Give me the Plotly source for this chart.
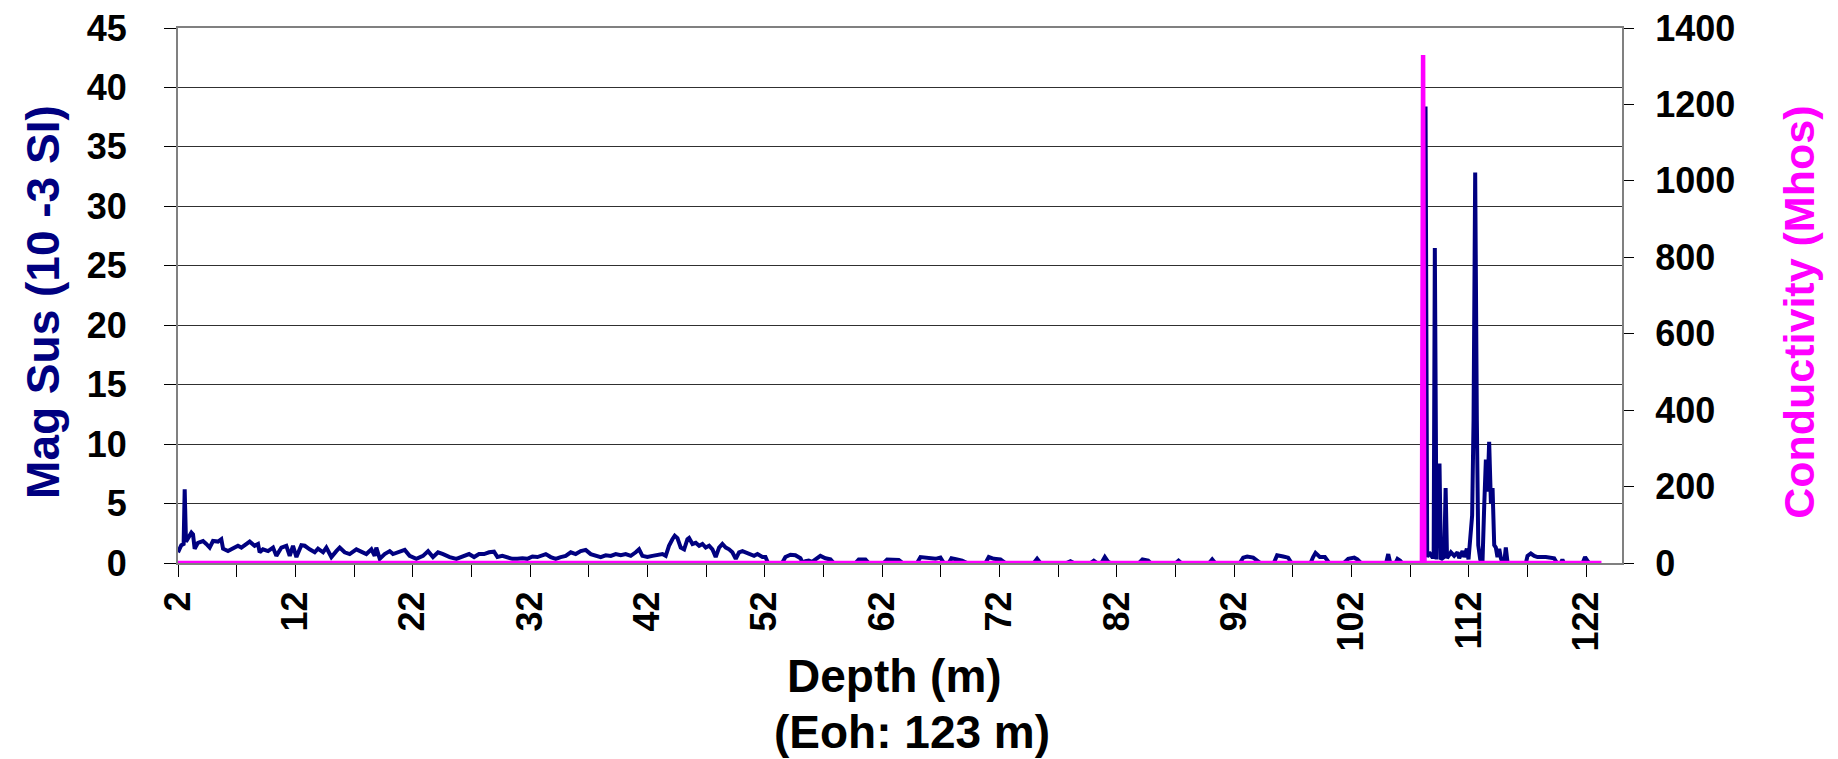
import plotly.graph_objects as go

# ---- Data ----
mag_depth = [
    2.00, 2.28, 2.48, 2.57, 2.68, 2.85, 3.14, 3.28, 3.42, 3.70, 4.13, 4.41, 4.70, 4.98, 5.41, 5.69, 5.84,
    6.26, 6.69, 7.11, 7.40, 7.82, 8.11, 8.53, 8.82, 8.96, 9.24, 9.67, 10.10, 10.38, 10.81, 11.23, 11.52,
    11.80, 12.09, 12.51, 12.80, 13.22, 13.65, 13.93, 14.36, 14.64, 15.07, 15.49, 15.78, 16.20, 16.63,
    17.20, 17.63, 18.05, 18.48, 18.76, 18.90, 19.19, 19.61, 20.04, 20.32, 20.89, 21.32, 21.74, 22.31,
    22.88, 23.31, 23.73, 24.16, 24.59, 25.15, 25.72, 26.15, 26.57,
    26.80, 27.23, 27.65, 28.08, 28.51, 28.93, 29.22, 29.64, 30.07, 30.49, 30.92, 31.35, 31.77, 32.20,
    32.63, 33.05, 33.34, 33.76, 34.19, 34.61, 35.04, 35.47, 35.89, 36.32, 36.74, 37.17, 37.60, 38.02,
    38.45, 38.88, 39.30, 39.73, 40.15, 40.58, 41.01, 41.29, 41.57, 42.00, 42.43, 42.85, 43.28, 43.56,
    43.84, 44.13, 44.33, 44.56, 44.84, 45.13, 45.41, 45.55, 45.84, 46.12, 46.41, 46.69, 46.97, 47.26,
    47.54, 47.82, 48.11, 48.39, 48.68, 48.96, 49.24, 49.53, 49.81, 50.10, 50.38, 50.81, 51.09, 51.38, 51.80,
    52.06, 52.28, 53.48, 53.76, 54.19, 54.61, 55.04, 55.24, 55.47, 55.75, 56.03, 56.46, 56.74, 57.17,
    57.60, 57.88, 59.73, 60.01, 60.58, 60.86, 62.14, 62.43, 63.42, 63.76, 64.98, 65.27, 65.84, 66.55,
    66.97, 67.26, 67.68, 67.91, 68.39, 68.82, 69.24, 70.81, 71.09, 71.52, 72.09, 72.51, 74.93, 75.21, 75.49,
    77.71, 78.05, 78.34, 79.76, 80.04, 80.32, 80.69, 80.98, 81.26, 81.46, 83.90, 84.19, 84.67, 84.87,
    87.03, 87.26, 87.48, 89.87, 90.13, 90.38, 92.48, 92.77, 93.11, 93.62, 94.05, 94.24, 95.38, 95.66,
    96.18, 96.60, 96.89, 98.51, 98.73, 98.93, 99.30, 99.73, 100.10, 101.35, 101.72, 102.00,
    102.23, 102.50, 102.80, 104.95, 105.13, 105.30, 105.75, 105.92, 106.15, 106.30, 108.20, 108.31,
    108.45, 108.62, 108.88, 109.00, 109.10, 109.25, 109.35, 109.50, 109.62, 109.90, 110.02, 110.14,
    110.47, 110.75, 111.03, 111.18, 111.46, 111.60, 111.83, 111.97, 112.11, 112.28, 112.40, 112.54,
    112.68, 112.80, 112.97, 113.16, 113.31, 113.45, 113.59, 113.73, 113.88, 114.02, 114.16, 114.30,
    114.44, 114.59, 114.73, 114.87, 115.01, 115.15, 115.30, 116.86, 117.00, 117.28, 117.57, 117.85,
    118.56, 119.27, 119.50, 119.84, 119.97, 120.10, 121.70, 121.90, 122.10, 122.25,
]
mag_sus = [
    0.9, 1.5, 1.6, 6.2, 1.8, 2.1, 2.55, 2.4, 1.2, 1.7, 1.85, 1.6, 1.3, 1.85, 1.8, 2.0, 1.2,
    1.0, 1.2, 1.45, 1.3, 1.6, 1.8, 1.45, 1.6, 0.9, 1.15, 1.0, 1.3, 0.6, 1.3, 1.45, 0.6,
    1.45, 0.5, 1.5, 1.45, 1.15, 0.9, 1.2, 0.9, 1.3, 0.5, 1.0, 1.3, 0.9, 0.75,
    1.15, 0.9, 0.75, 1.15, 0.6, 1.3, 0.35, 0.75, 1.0, 0.75, 1.0, 1.1, 0.6, 0.35,
    0.6, 1.0, 0.5, 0.9, 0.75, 0.5, 0.35, 0.5, 0.6,
    0.75, 0.5, 0.75, 0.75, 0.9, 0.95, 0.5, 0.6, 0.5, 0.35, 0.35, 0.4, 0.35, 0.55,
    0.5, 0.6, 0.75, 0.5, 0.35, 0.5, 0.6, 0.9, 0.75, 1.0, 1.1, 0.75, 0.6, 0.5,
    0.65, 0.6, 0.75, 0.65, 0.75, 0.6, 0.9, 1.15, 0.6, 0.5, 0.6, 0.65, 0.75, 0.6,
    1.45, 2.0, 2.3, 2.1, 1.3, 1.15, 2.0, 2.1, 1.6, 1.7, 1.45, 1.6, 1.3, 1.45,
    1.15, 0.5, 1.3, 1.6, 1.3, 1.15, 0.9, 0.35, 0.9, 1.0, 0.9, 0.75, 0.6, 0.75, 0.5,
    0.5, 0.0, 0.0, 0.5, 0.7, 0.65, 0.4, 0.0, 0.15, 0.2, 0.1, 0.4, 0.6, 0.4,
    0.3, 0.0, 0.0, 0.3, 0.3, 0.0, 0.0, 0.3, 0.25, 0.0, 0.0, 0.5, 0.4, 0.35,
    0.45, 0.0, 0.0, 0.4, 0.3, 0.2, 0.0, 0.0, 0.5, 0.35, 0.3, 0.0, 0.0, 0.35, 0.0,
    0.0, 0.15, 0.0, 0.0, 0.2, 0.0, 0.0, 0.5, 0.1, 0.0, 0.0, 0.3, 0.2, 0.0,
    0.0, 0.2, 0.0, 0.0, 0.3, 0.0, 0.0, 0.45, 0.55, 0.45, 0.2, 0.0, 0.0, 0.65,
    0.55, 0.45, 0.0, 0.0, 0.5, 0.85, 0.5, 0.5, 0.0, 0.0, 0.35, 0.45,
    0.45, 0.3, 0.0, 0.0, 0.75, 0.0, 0.0, 0.35, 0.2, 0.0, 0.0, 38.4,
    0.5, 0.9, 0.5, 0.5, 26.5, 0.3, 8.2, 8.2, 0.3, 0.5, 6.3, 0.4,
    0.9, 0.6, 0.9, 0.4, 1.0, 0.5, 1.2, 0.3, 2.0, 4.0, 12.0, 32.85,
    12.0, 1.5, 0.3, 0.0, 4.85, 8.7, 6.0, 10.2, 5.0, 6.3, 1.5, 1.3,
    0.5, 1.2, 0.4, 0.0, 0.0, 1.3, 0.0, 0.0, 0.6, 0.8, 0.6, 0.5,
    0.5, 0.4, 0.0, 0.0, 0.3, 0.0, 0.0, 0.5, 0.2, 0.0,
]
cond_depth = [2.0, 108.0, 108.1, 108.2, 123.3]
conductivity = [0, 0, 1329, 0, 0]

x_tick_start, x_tick_step, x_minor_step = 2, 10, 5
y1_ticks = [0, 5, 10, 15, 20, 25, 30, 35, 40, 45]
y2_ticks = [0, 200, 400, 600, 800, 1000, 1200, 1400]

NAVY = "#000080"
MAGENTA = "#FF00FF"
FONT = "Liberation Sans, Arial, sans-serif"

fig = go.Figure()
fig.add_trace(go.Scatter(x=mag_depth, y=mag_sus, mode="lines",
                         line=dict(color=NAVY, width=4), name="Mag Sus", yaxis="y"))
fig.add_trace(go.Scatter(x=cond_depth, y=conductivity, mode="lines",
                         line=dict(color=MAGENTA, width=4.5), name="Conductivity", yaxis="y2"))

tickfont = dict(family=FONT, size=36, color="black", weight="bold")
titlefont = dict(family=FONT, size=46, weight="bold")

fig.update_layout(
    width=1838, height=759,
    margin=dict(l=170, r=224, t=20, b=204, autoexpand=False),
    paper_bgcolor="white", plot_bgcolor="white",
    showlegend=False,
    xaxis=dict(
        range=[2, 125.05], tick0=x_tick_start, dtick=x_tick_step,
        ticks="outside", ticklen=12, tickwidth=1, tickcolor="black",
        tickangle=-90, tickfont=tickfont,
        minor=dict(tick0=x_tick_start, dtick=x_minor_step, ticks="outside", ticklen=12,
                   tickcolor="black", tickwidth=1, showgrid=False),
        showgrid=False, zeroline=False,
        showline=True, linecolor="#808080", linewidth=2, mirror=True,
    ),
    yaxis=dict(
        range=[0, 45], tickvals=y1_ticks,
        ticks="outside", ticklen=12, tickwidth=1, tickcolor="black",
        tickfont=tickfont, ticklabelstandoff=30, ticklabeloverflow="allow",
        showgrid=True, gridcolor="#303030", gridwidth=1.2, zeroline=False,
        showline=True, linecolor="#808080", linewidth=2,
    ),
    yaxis2=dict(
        range=[0, 1400], tickvals=y2_ticks, overlaying="y", side="right",
        ticks="outside", ticklen=10, tickwidth=1, tickcolor="black",
        tickfont=tickfont, ticklabelstandoff=14, ticklabeloverflow="allow",
        showgrid=False, zeroline=False,
        showline=True, linecolor="#808080", linewidth=2,
    ),
    annotations=[
        dict(text="Mag Sus (10 -3 SI)", textangle=-90, xref="paper", yref="paper",
             x=-0.0935, y=0.488, xanchor="center", yanchor="middle", showarrow=False,
             font=dict(titlefont, color=NAVY)),
        dict(text="Conductivity (Mhos)", textangle=-90, xref="paper", yref="paper",
             x=1.122, y=0.468, xanchor="center", yanchor="middle", showarrow=False,
             font=dict(titlefont, size=43, color=MAGENTA)),
        dict(text="Depth (m)", xref="paper", yref="paper",
             x=0.496, y=-0.212, xanchor="center", yanchor="middle", showarrow=False,
             font=dict(titlefont, color="black")),
        dict(text="(Eoh: 123 m)", xref="paper", yref="paper",
             x=0.508, y=-0.316, xanchor="center", yanchor="middle", showarrow=False,
             font=dict(titlefont, color="black")),
    ],
)

fig.write_html("out.html")
